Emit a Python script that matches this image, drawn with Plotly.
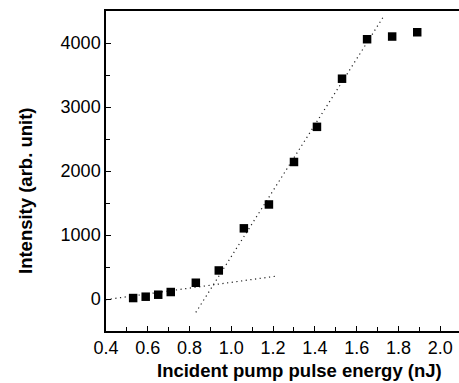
import plotly.graph_objects as go

energy = [0.53, 0.59, 0.65, 0.71, 0.83, 0.94, 1.06, 1.18, 1.30, 1.41, 1.53, 1.65, 1.77, 1.89]
intensity = [15, 36, 67, 109, 254, 446, 1104, 1477, 2141, 2690, 3442, 4059, 4101, 4168]

fit_low_x = [0.40, 1.21]
fit_low_y = [-10, 355]
fit_high_x = [0.83, 1.73]
fit_high_y = [-210, 4420]

x_ticks = [0.4, 0.6, 0.8, 1.0, 1.2, 1.4, 1.6, 1.8, 2.0]
y_ticks = [0, 1000, 2000, 3000, 4000]

fig = go.Figure()
dot = dict(color="#222", width=1.2, dash="1.2px,3.5px")
fig.add_trace(go.Scatter(x=fit_low_x, y=fit_low_y, mode="lines", line=dot, hoverinfo="skip"))
fig.add_trace(go.Scatter(x=fit_high_x, y=fit_high_y, mode="lines", line=dot, hoverinfo="skip"))
fig.add_trace(go.Scatter(x=energy, y=intensity, mode="markers",
                         marker=dict(symbol="square", size=8.5, color="black", line=dict(width=0))))

fam = "Liberation Sans, Arial, Helvetica, sans-serif"
tfont = dict(family=fam, size=18, color="black")
title_font = dict(family=fam, size=18.5, color="black")

fig.update_layout(
    width=459, height=383, showlegend=False,
    paper_bgcolor="white", plot_bgcolor="white",
    margin=dict(l=106, r=0, t=11, b=52, pad=0),
    font=tfont,
    xaxis=dict(range=[0.4, 2.09], tickvals=x_ticks, ticktext=[f"{v:.1f}" for v in x_ticks],
               ticks="inside", ticklen=5, tickwidth=1, tickcolor="black",
               minor=dict(dtick=0.1, tick0=0.4, ticks="inside", ticklen=4, tickcolor="black"),
               showline=True, linecolor="black", linewidth=1.5, mirror=True,
               ticklabeloverflow="allow",
               showgrid=False, zeroline=False, tickfont=tfont),
    yaxis=dict(range=[-500, 4500], tickvals=y_ticks,
               ticks="inside", ticklen=5, tickwidth=1, tickcolor="black",
               minor=dict(dtick=500, tick0=0, ticks="inside", ticklen=4, tickcolor="black"),
               showline=True, linecolor="black", linewidth=1.5, mirror=False,
               showgrid=False, zeroline=False, tickfont=tfont),
    annotations=[
        dict(text="<b>Incident pump pulse energy (nJ)</b>", xref="paper", yref="paper",
             x=(299 - 106) / 353, y=(331 - 370) / 320, xanchor="center", yanchor="middle",
             showarrow=False, font=title_font),
        dict(text="<b>Intensity (arb. unit)</b>", xref="paper", yref="paper",
             x=(25 - 106) / 353, y=(331 - 191) / 320, xanchor="center", yanchor="middle",
             textangle=-90, showarrow=False, font=title_font),
    ],
)
fig.write_html(
    "out.html",
    config={"displayModeBar": False},
    post_script="document.body.style.margin='0';document.documentElement.style.overflow='hidden';",
)
